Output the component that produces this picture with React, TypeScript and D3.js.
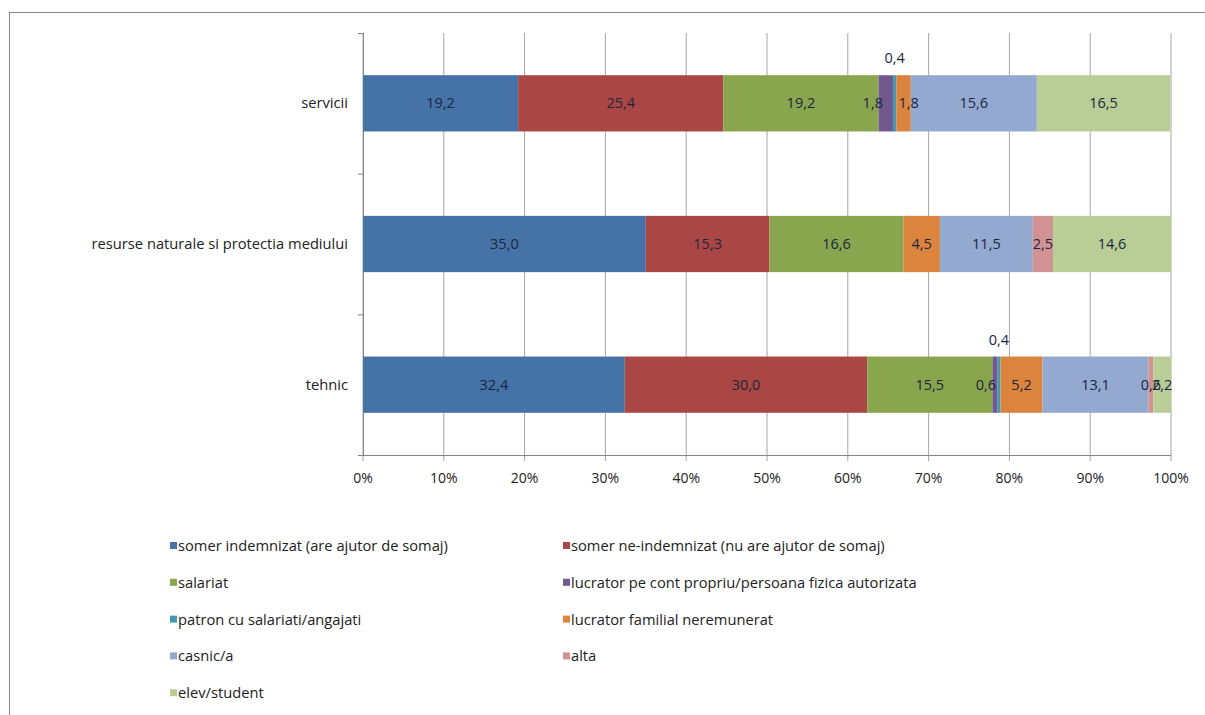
import React from "react";
import * as d3 from "d3";

const categories = ["servicii", "resurse naturale si protectia mediului", "tehnic"];
const seriesNames = [
  "somer indemnizat (are ajutor de somaj)",
  "somer ne-indemnizat (nu are ajutor de somaj)",
  "salariat",
  "lucrator pe cont propriu/persoana fizica autorizata",
  "patron cu salariati/angajati",
  "lucrator familial neremunerat",
  "casnic/a",
  "alta",
  "elev/student",
];
const serviciiValues = [19.2, 25.4, 19.2, 1.8, 0.4, 1.8, 15.6, 0, 16.5];
const resurseValues = [35.0, 15.3, 16.6, 0, 0, 4.5, 11.5, 2.5, 14.6];
const tehnicValues = [32.4, 30.0, 15.5, 0.6, 0.4, 5.2, 13.1, 0.6, 2.2];
const colors = ["#4572A7", "#AA4643", "#89A54E", "#71588F", "#4198AF", "#DB843D", "#93A9CF", "#D19392", "#B9CD96"];
const xTicks = [0, 10, 20, 30, 40, 50, 60, 70, 80, 90, 100];

const FONT = "'Open Sans', 'Noto Sans', sans-serif";

// small horizontal nudges for crowded labels (category index -> series index -> px)
const labelNudge: Record<string, number> = { "0-3": -13, "0-5": 5, "2-3": -9 };

export default function App() {
  const valuesByCat = [serviciiValues, resurseValues, tehnicValues];
  const keys = seriesNames.map((_, i) => "s" + i);
  const rows = categories.map((c, ci) => {
    const r: any = { cat: c };
    keys.forEach((k, i) => (r[k] = valuesByCat[ci][i]));
    return r;
  });
  const stacked = d3.stack().keys(keys)(rows);

  const x = d3.scaleLinear().domain([0, 100]).range([363, 1171]);
  const y = d3.scaleBand().domain(categories).range([33, 455]).paddingInner(0.6).paddingOuter(0.3);
  const catTicks = [33, 33 + (455 - 33) / 3, 33 + (2 * (455 - 33)) / 3, 455];

  const fmt = (v: number) => v.toFixed(1).replace(".", ",");

  return (
    <svg width={1205} height={715} style={{ position: "absolute", left: 0, top: 0, background: "#fff" }} fontFamily={FONT}>
      <rect x={9.5} y={12.5} width={1300} height={800} fill="none" stroke="#868686" strokeWidth={1} />
      {xTicks.map((t) => (
        <line key={"g" + t} x1={x(t)} x2={x(t)} y1={33} y2={461} stroke="#a6a6a6" strokeWidth={1} />
      ))}
      <line x1={363.5} x2={363.5} y1={33} y2={455} stroke="#868686" />
      {catTicks.map((t, i) => (
        <line key={"yt" + i} x1={358} x2={363.5} y1={t + 0.5} y2={t + 0.5} stroke="#868686" />
      ))}
      <line x1={358} x2={1171} y1={455.5} y2={455.5} stroke="#868686" />
      {xTicks.map((t) => (
        <text key={"xl" + t} x={x(t)} y={483} textAnchor="middle" fontSize={14} fill="#222">
          {t}%
        </text>
      ))}
      {categories.map((c) => (
        <text key={"cl" + c} x={348} y={(y(c) as number) + y.bandwidth() / 2 + 5} textAnchor="end" fontSize={14.7} fill="#222">
          {c}
        </text>
      ))}
      {stacked.map((s, si) =>
        s.map((d, ci) => {
          const v = d[1] - d[0];
          if (v <= 0) return null;
          const cat = categories[ci];
          const y0 = y(cat) as number;
          return (
            <rect key={si + "-" + ci} x={x(d[0])} y={y0} width={x(d[1]) - x(d[0])} height={y.bandwidth()} fill={colors[si]} />
          );
        })
      )}
      {stacked.map((s, si) =>
        s.map((d, ci) => {
          const v = d[1] - d[0];
          if (v <= 0) return null;
          const cat = categories[ci];
          const y0 = y(cat) as number;
          const above = si === 4;
          const cx = (x(d[0]) + x(d[1])) / 2 + (labelNudge[ci + "-" + si] || 0);
          return (
            <text
              key={"l" + si + "-" + ci}
              x={cx}
              y={above ? y0 - 12 : y0 + y.bandwidth() / 2 + 5}
              textAnchor="middle"
              fontSize={14.5}
              fill="#1c2640"
            >
              {fmt(valuesByCat[ci][si])}
            </text>
          );
        })
      )}
      {seriesNames.map((n, i) => {
        const col = i % 2;
        const row = Math.floor(i / 2);
        const lx = col === 0 ? 170 : 563;
        const ly = 546 + row * 36.8;
        return (
          <g key={"lg" + i}>
            <rect x={lx} y={ly - 4} width={7} height={7} fill={colors[i]} />
            <text x={lx + 8} y={ly + 5} fontSize={14.7} fill="#222">
              {n}
            </text>
          </g>
        );
      })}
    </svg>
  );
}
